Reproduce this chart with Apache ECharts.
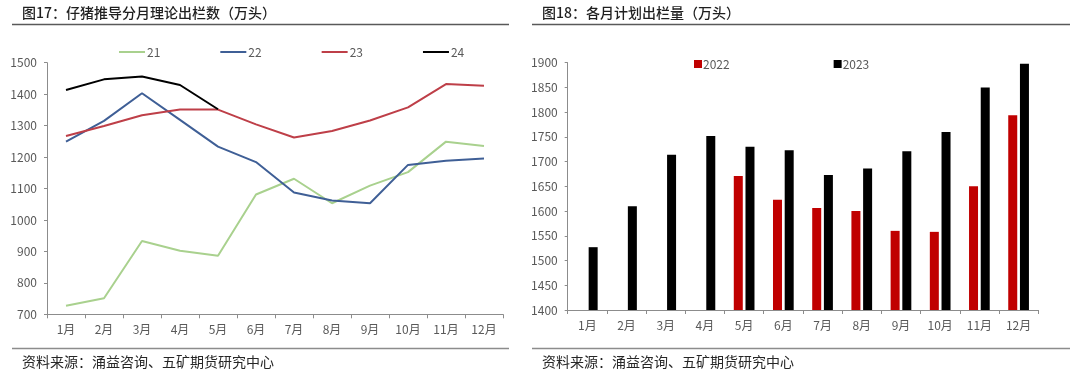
<!DOCTYPE html>
<html>
<head>
<meta charset="utf-8">
<script src="https://cdn.jsdelivr.net/npm/echarts@6/dist/echarts.min.js"></script>
<style>html,body{margin:0;padding:0;background:#fff;}#c{width:1080px;height:380px;}</style>
</head>
<body>
<div id="c"></div>
<script>
var months = ['1月','2月','3月','4月','5月','6月','7月','8月','9月','10月','11月','12月'];
var leftTitle = '图17：仔猪推导分月理论出栏数（万头）';
var rightTitle = '图18：各月计划出栏量（万头）';
var sourceText = '资料来源：涌益咨询、五矿期货研究中心';
var lineNames = ['21','22','23','24'];
var s21 = [727, 751, 933, 902, 886, 1081, 1131, 1053, 1109, 1152, 1249, 1235];
var s22 = [1249, 1315, 1403, 1318, 1233, 1184, 1087, 1062, 1053, 1175, 1188, 1195];
var s23 = [1267, 1299, 1333, 1351, 1351, 1304, 1262, 1283, 1316, 1358, 1432, 1427];
var s24 = [1413, 1447, 1456, 1429, 1352];
var barNames = ['2022','2023'];
var b2022 = [null, null, null, null, 1671, 1623, 1606, 1600, 1560, 1558, 1650, 1794];
var b2023 = [1527, 1610, 1714, 1752, 1730, 1723, 1673, 1686, 1721, 1760, 1850, 1898];

var FONT = '"Noto Sans CJK SC", "Noto Sans", sans-serif';
var labelColor = '#595959';
var axisColor = '#8c8c8c';

var chart = echarts.init(document.getElementById('c'), null, {renderer: 'canvas'});

function catAxis(gi) {
  return {
    type: 'category', gridIndex: gi, data: months, boundaryGap: true,
    axisLine: {lineStyle: {color: axisColor, width: 1}},
    axisTick: {show: true, length: 4, lineStyle: {color: axisColor}},
    axisLabel: {color: labelColor, fontSize: 12, fontFamily: FONT, margin: 9}
  };
}
function valAxis(gi, min, max, interval) {
  return {
    type: 'value', gridIndex: gi, min: min, max: max, interval: interval,
    axisLine: {show: true, lineStyle: {color: axisColor, width: 1}},
    axisTick: {show: true, length: 3, lineStyle: {color: axisColor}},
    splitLine: {show: false},
    axisLabel: {color: labelColor, fontSize: 12, fontFamily: FONT, margin: 10,
      formatter: function (v) { return String(v); }}
  };
}
function lineSeries(name, data, color) {
  return {
    name: name, type: 'line', xAxisIndex: 0, yAxisIndex: 0, data: data,
    symbol: 'none', smooth: false, color: color,
    lineStyle: {width: 2, color: color}, itemStyle: {color: color}
  };
}

var option = {
  animation: false,
  textStyle: {fontFamily: FONT},
  grid: [
    {left: 47, top: 62.7, width: 456, height: 251.6},
    {left: 567.7, top: 62.7, width: 470.5, height: 247.3}
  ],
  xAxis: [catAxis(0), catAxis(1)],
  yAxis: [valAxis(0, 700, 1500, 100), valAxis(1, 1400, 1900, 50)],
  legend: [
    {
      data: lineNames, left: 114, top: 41, icon: 'rect', itemWidth: 26, itemHeight: 2,
      itemGap: 60, textStyle: {color: labelColor, fontSize: 12, fontFamily: FONT, padding: [0,0,0,-3]}
    },
    {
      data: barNames, left: 689, top: 53, icon: 'rect', itemWidth: 8, itemHeight: 8,
      itemGap: 104, textStyle: {color: labelColor, fontSize: 12, fontFamily: FONT, padding: [0,0,0,-4]}
    }
  ],
  series: [
    lineSeries('21', s21, '#a9d18e'),
    lineSeries('22', s22, '#3f5f96'),
    lineSeries('23', s23, '#be3f48'),
    lineSeries('24', s24, '#000000'),
    {name: '2022', type: 'bar', xAxisIndex: 1, yAxisIndex: 1, data: b2022, barWidth: 9, barGap: '30%', itemStyle: {color: '#c00000'}},
    {name: '2023', type: 'bar', xAxisIndex: 1, yAxisIndex: 1, data: b2023, barWidth: 9, barGap: '30%', itemStyle: {color: '#000000'}}
  ],
  graphic: [
    {type: 'text', left: 22, top: 6, style: {text: leftTitle, fill: '#1f1f1f', font: '500 14px ' + FONT}},
    {type: 'text', left: 542, top: 6, style: {text: rightTitle, fill: '#1f1f1f', font: '500 14px ' + FONT}},
    {type: 'line', shape: {x1: 12, y1: 24.5, x2: 509, y2: 24.5}, style: {stroke: '#595959', lineWidth: 1.5}},
    {type: 'line', shape: {x1: 532, y1: 24.5, x2: 1070, y2: 24.5}, style: {stroke: '#595959', lineWidth: 1.5}},
    {type: 'line', shape: {x1: 12, y1: 348.5, x2: 509, y2: 348.5}, style: {stroke: '#8c8c8c', lineWidth: 1.5}},
    {type: 'line', shape: {x1: 532, y1: 348.5, x2: 1070, y2: 348.5}, style: {stroke: '#8c8c8c', lineWidth: 1.5}},
    {type: 'text', left: 22, top: 355, style: {text: sourceText, fill: '#262626', font: '14px ' + FONT}},
    {type: 'text', left: 542, top: 355, style: {text: sourceText, fill: '#262626', font: '14px ' + FONT}}
  ]
};
chart.setOption(option);
</script>
</body>
</html>
